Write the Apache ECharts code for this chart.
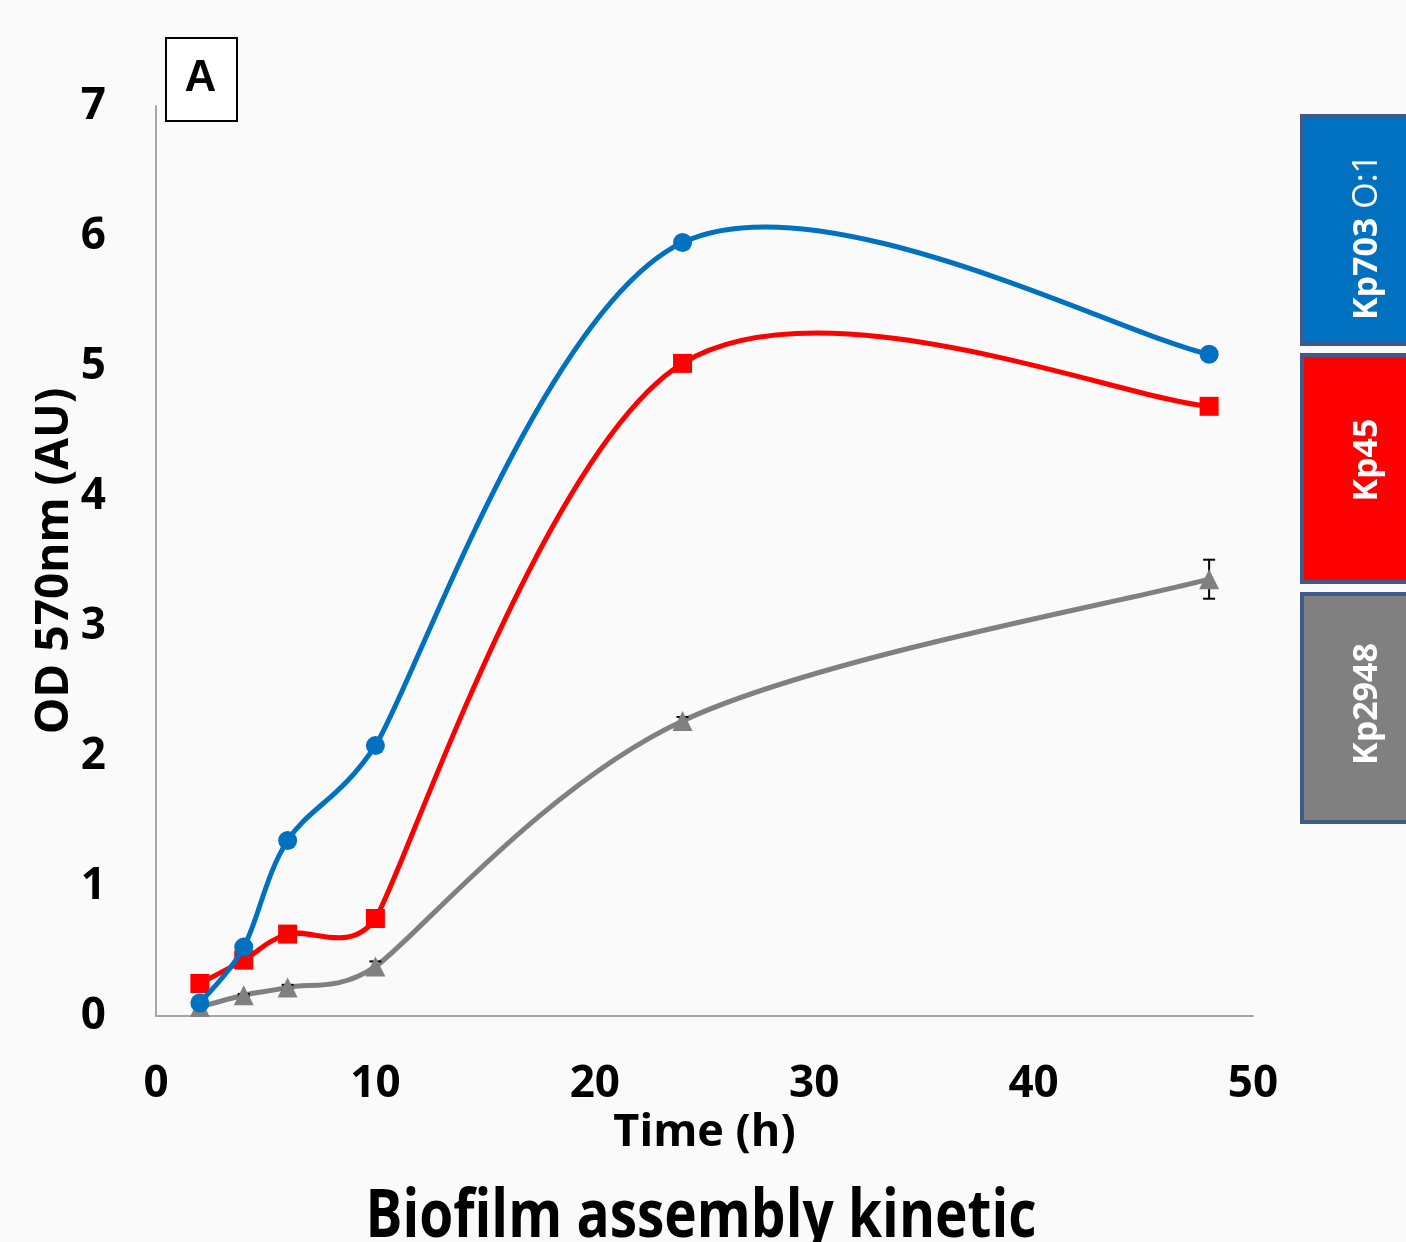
<!DOCTYPE html>
<html>
<head>
<meta charset="utf-8">
<script src="https://cdn.jsdelivr.net/npm/echarts@6/dist/echarts.min.js"></script>
<style>
html,body{margin:0;padding:0;background:#fafafa;}
#c{width:1406px;height:1242px;}
</style>
</head>
<body>
<div id="c"></div>
<script>
const hours = [2, 4, 6, 10, 24, 48];
const kp703 = [0.10, 0.53, 1.35, 2.08, 5.95, 5.09];
const kp45 = [0.25, 0.43, 0.63, 0.75, 5.02, 4.69];
const kp2948 = [0.07, 0.16, 0.22, 0.38, 2.27, 3.36];
const kp2948Err = [0.01, 0.01, 0.02, 0.04, 0.03, 0.15];
const xTicks = [0, 10, 20, 30, 40, 50];
const yTicks = [0, 1, 2, 3, 4, 5, 6, 7];
const seriesNames = ['Kp703 O:1', 'Kp45', 'Kp2948'];
const colors = ['#0070c0', '#ff0000', '#808080'];
const chartTitle = 'Biofilm assembly kinetic';

const FONT = "'Open Sans', sans-serif";

const chart = echarts.init(document.getElementById('c'));

function pts(ys){ return hours.map((h,i)=>[h, ys[i]]); }

// smoothed curve (Excel-like Bezier), positions obtained from the chart's own scales via api.coord
function curveSeries(name, ys, color, z){
  return {
    name: name + ' curve', type:'custom', data: pts(ys), z: z, silent:true,
    renderItem: function(params, api){
      const n = hours.length;
      const i = params.dataIndex;
      if (i >= n - 1) return {type:'group', children:[]};
      const P = j => api.coord([hours[j], ys[j]]);
      const dist = (a,b) => Math.hypot(a[0]-b[0], a[1]-b[1]);
      function handle(k, sign){
        const pk = P(k);
        const prev = P(Math.max(0, k-1));
        const next = P(Math.min(n-1, k+1));
        const tx = next[0]-prev[0], ty = next[1]-prev[1];
        const L = Math.hypot(tx, ty);
        if (L === 0) return pk;
        const segs = [];
        if (k > 0) segs.push(dist(pk, prev));
        if (k < n-1) segs.push(dist(pk, next));
        let h = Math.min(L/6, Math.min.apply(null, segs)/2);
        return [pk[0] + sign*tx/L*h, pk[1] + sign*ty/L*h];
      }
      const p1 = P(i), p2 = P(i+1);
      const c1 = handle(i, 1), c2 = handle(i+1, -1);
      return {type:'bezierCurve',
        shape:{x1:p1[0], y1:p1[1], x2:p2[0], y2:p2[1], cpx1:c1[0], cpy1:c1[1], cpx2:c2[0], cpy2:c2[1]},
        style:{stroke:color, lineWidth:5, fill:null, lineCap:'round'}};
    }
  };
}

const errData = hours.map((h,i)=>[h, kp2948[i]-kp2948Err[i], kp2948[i]+kp2948Err[i]]);

const legendBoxes = [
  {y:114, h:228, ty:237, color:colors[0], rich:'{b|Kp703} {r|O:1}'},
  {y:353, h:227, ty:460, color:colors[1], rich:'{b|Kp45}'},
  {y:592, h:228, ty:704, color:colors[2], rich:'{b|Kp2948}'}
];

const graphics = [];
legendBoxes.forEach(b=>{
  graphics.push({type:'rect', left:1300, top:b.y, shape:{x:0,y:0,width:120,height:b.h},
    style:{fill:b.color, stroke:'#3d5a8a', lineWidth:4}});
  graphics.push({type:'text', x:1367, y:b.ty, rotation:Math.PI/2,
    style:{text:b.rich, align:'center', verticalAlign:'middle', fill:'#fff',
      font:"bold 34px " + FONT,
      rich:{b:{fontSize:34, fontWeight:'bold', fill:'#fff', fontFamily:FONT},
            r:{fontSize:34, fontWeight:'normal', fill:'#fff', fontFamily:FONT}}}});
});
graphics.push({type:'rect', left:165, top:37, shape:{x:0,y:0,width:71,height:83},
  style:{fill:'#ffffff', stroke:'#000', lineWidth:2}});
graphics.push({type:'text', x:200.5, y:79, style:{text:'A', align:'center', verticalAlign:'middle',
  fill:'#000', font:"bold 44px 'Liberation Sans', Arial, sans-serif"}});
graphics.push({type:'text', x:701, y:1218, scaleY:1.2,
  style:{text:chartTitle, align:'center', verticalAlign:'middle', fill:'#000',
    font:"bold 55px " + FONT}});

chart.setOption({
  backgroundColor:'#fafafa',
  animation:false,
  grid:{left:156, right:153, top:106, bottom:226},
  xAxis:{type:'value', min:0, max:50, interval:10,
    name:'Time (h)', nameLocation:'middle', nameGap:82,
    nameTextStyle:{fontFamily:FONT, fontWeight:'bold', fontSize:45, color:'#000'},
    axisLine:{show:true, lineStyle:{color:'#a6a6a6', width:2}},
    axisTick:{show:false}, splitLine:{show:false},
    axisLabel:{margin:46, fontFamily:FONT, fontWeight:'bold', fontSize:44, color:'#000',
      formatter:v=> xTicks.includes(v) ? String(v) : ''}},
  yAxis:{type:'value', min:0, max:7, interval:1,
    name:'OD 570nm (AU)', nameLocation:'middle', nameGap:78, nameMoveOverlap:false,
    nameTextStyle:{fontFamily:FONT, fontWeight:'bold', fontSize:46, color:'#000'},
    axisLine:{show:true, lineStyle:{color:'#a6a6a6', width:2}},
    axisTick:{show:false}, splitLine:{show:false},
    axisLabel:{margin:50, fontFamily:FONT, fontWeight:'bold', fontSize:44, color:'#000',
      formatter:v=> yTicks.includes(v) ? String(v) : ''}},
  graphic: graphics,
  series:[
    curveSeries(seriesNames[2], kp2948, colors[2], 2),
    {name:'err', type:'custom', data:errData, z:3,
      renderItem:(params, api)=>{
        const x = api.value(0), lo = api.value(1), hi = api.value(2);
        const pLo = api.coord([x, lo]), pHi = api.coord([x, hi]);
        const w = 6;
        const st = {stroke:'#000', lineWidth:2};
        return {type:'group', children:[
          {type:'line', shape:{x1:pLo[0], y1:pLo[1], x2:pHi[0], y2:pHi[1]}, style:st},
          {type:'line', shape:{x1:pLo[0]-w, y1:pLo[1], x2:pLo[0]+w, y2:pLo[1]}, style:st},
          {type:'line', shape:{x1:pHi[0]-w, y1:pHi[1], x2:pHi[0]+w, y2:pHi[1]}, style:st}
        ]};
      }},
    {name:seriesNames[2], type:'line', data:pts(kp2948), symbol:'triangle', symbolSize:20,
      lineStyle:{width:0, opacity:0}, itemStyle:{color:colors[2]}, z:4},
    curveSeries(seriesNames[1], kp45, colors[1], 5),
    {name:seriesNames[1], type:'line', data:pts(kp45), symbol:'rect', symbolSize:19,
      lineStyle:{width:0, opacity:0}, itemStyle:{color:colors[1]}, z:6},
    curveSeries(seriesNames[0], kp703, colors[0], 7),
    {name:seriesNames[0], type:'line', data:pts(kp703), symbol:'circle', symbolSize:19,
      lineStyle:{width:0, opacity:0}, itemStyle:{color:colors[0]}, z:8}
  ]
});
</script>
</body>
</html>
